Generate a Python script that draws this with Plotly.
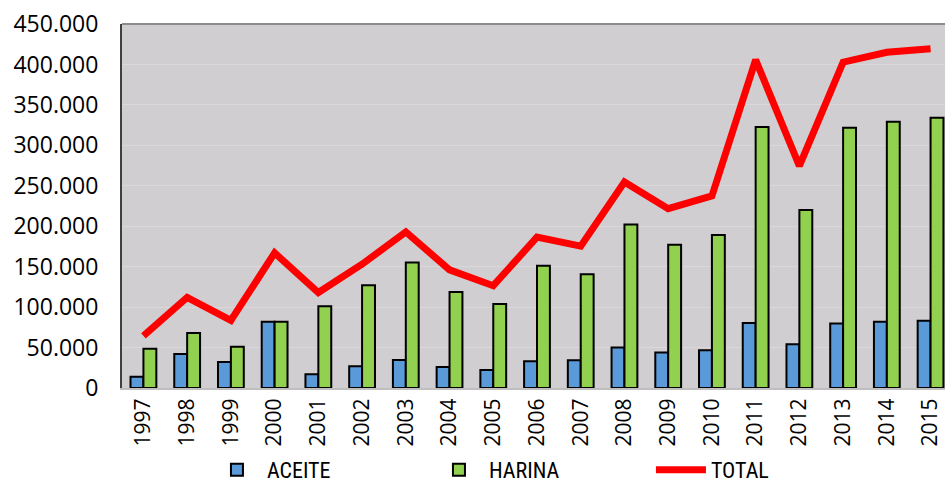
import plotly.graph_objects as go

years = [str(y) for y in range(1997, 2016)]
aceite = [14000, 42000, 32000, 82000, 17000, 27000, 34500, 26000, 22300, 33000,
          34300, 50000, 43800, 46800, 80300, 54200, 79800, 81900, 83100]
harina = [48400, 68000, 51000, 82000, 101000, 127000, 155000, 118700, 104000, 151000,
          140500, 202000, 177000, 189000, 322600, 220000, 321700, 329200, 334100]
total = [64500, 112000, 83500, 167000, 118000, 153000, 193000, 146000, 126500, 186500,
         175300, 254700, 221700, 237400, 405700, 274500, 402800, 415000, 419300]

fig = go.Figure()
fig.add_trace(go.Bar(x=years, y=aceite, name="ACEITE",
                     marker=dict(color="#5A9AD8", line=dict(color="#000000", width=2))))
fig.add_trace(go.Bar(x=years, y=harina, name="HARINA",
                     marker=dict(color="#92D050", line=dict(color="#000000", width=2))))
fig.add_trace(go.Scatter(x=years, y=total, name="TOTAL", mode="lines",
                         line=dict(color="#FF0000", width=7)))

fig.update_layout(
    width=945, height=491,
    margin=dict(l=122, r=0, t=24, b=103, autoexpand=False),
    paper_bgcolor="white",
    plot_bgcolor="#D0CED0",
    separators=",.",
    barmode="group",
    bargap=0.41,
    bargroupgap=0,
    font=dict(family="Open Sans, Noto Sans, sans-serif", size=22, color="#000000"),
    showlegend=True,
    legend=dict(orientation="h", xref="container", x=0.219, xanchor="left",
                yref="container", y=-0.04, yanchor="bottom",
                entrywidth=157, entrywidthmode="pixels", itemwidth=50,
                font=dict(family="Liberation Sans Narrow, Roboto Condensed, Noto Sans", size=22),
                bgcolor="rgba(0,0,0,0)"),
    xaxis=dict(range=[-0.49, 18.33], tickangle=-90, showgrid=False,
               showline=True, linecolor="#BFBFBF", linewidth=2, ticks="",
               tickfont=dict(size=21)),
    yaxis=dict(range=[0, 450000], tickvals=list(range(0, 450001, 50000)),
               tickformat=",d", showgrid=True, gridcolor="#DAD8DA", gridwidth=1,
               showline=True, linecolor="#404040", linewidth=2, ticks="",
               ticklabelstandoff=17, zeroline=False, tickfont=dict(size=23)),
    shapes=[dict(type="line", xref="paper", yref="paper", x0=0, x1=1, y0=1, y1=1,
                 line=dict(color="#8C8C8C", width=2))],
)

fig.write_html("out.html")
